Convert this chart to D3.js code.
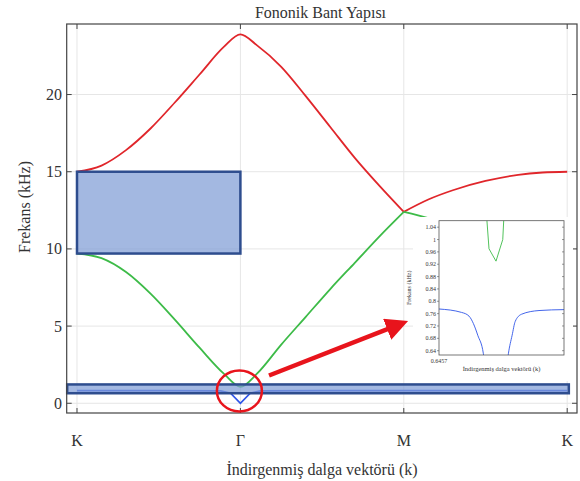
<!DOCTYPE html>
<html>
<head>
<meta charset="utf-8">
<script src="https://cdn.jsdelivr.net/npm/d3@7"></script>
<style>
  body { margin: 0; background: #fff; }
  text { font-family: "Liberation Serif", "Times New Roman", "DejaVu Serif", serif; fill: #333; }
</style>
</head>
<body>
<svg id="chart" width="580" height="481" font-family="Liberation Serif, serif"></svg>
<script>
// path positions (K=0, Γ=1, M=2, K=3)
let pathLabels = ["K", "Γ", "M", "K"],
    pathTicks = [0, 1, 2, 3],
    freqTicks = [0, 5, 10, 15, 20];

// sample positions along the path, shared by the two upper bands
let kSamples = [0, 0.15, 0.3, 0.45, 0.6, 0.75, 0.9, 1.0, 1.1, 1.25, 1.4, 1.55, 1.7, 1.85, 2.0,
                2.15, 2.3, 2.5, 2.7, 2.85, 3.0];
let redBand = [15.0, 15.4, 16.4, 17.8, 19.5, 21.3, 23.1, 23.9, 23.2, 21.8, 19.9, 17.9, 15.9, 14.1, 12.4,
               13.2, 13.8, 14.4, 14.8, 14.95, 15.0];
let greenBand = [9.7, 9.4, 8.5, 7.1, 5.4, 3.6, 1.9, 1.07, 1.9, 3.8, 5.6, 7.4, 9.1, 10.8, 12.4,
                 12.0, 11.5, 10.9, 10.3, 9.9, 9.7];

// lowest band (sharp dip at Γ)
let blueK = [0, 0.5, 0.88, 0.94, 1.0, 1.06, 1.12, 1.5, 2.0, 2.5, 3.0];
let blueBand = [0.82, 0.82, 0.80, 0.65, 0.0, 0.65, 0.80, 0.82, 0.82, 0.82, 0.82];

// band gaps: [k start, k end, f low, f high]
let bandGaps = [[0, 1, 9.7, 15.0], [-0.06, 3.01, 0.65, 1.22]];

// zoomed inset (x is relative position across the inset)
let insetTicks = [1.04, 1, 0.96, 0.92, 0.88, 0.84, 0.8, 0.76, 0.72, 0.68, 0.64];
let insetGreenX = [0.38, 0.40, 0.456, 0.51, 0.52],
    insetGreen = [1.08, 0.97, 0.93, 1.0, 1.08];
let insetBlueX = [0, 0.18, 0.24, 0.275, 0.31, 0.355, 0.365, 0.545, 0.555, 0.585, 0.61, 0.66, 0.8, 1.0],
    insetBlue = [0.775, 0.764, 0.752, 0.728, 0.69, 0.63, 0.60, 0.60, 0.63, 0.69, 0.735, 0.758, 0.770, 0.773];
let insetXLabel = "0.6457";

let width = 580,
    height = 481,
    frame = {left: 66.7, right: 577, top: 24, bottom: 413};

let svg = d3.select("#chart");

let x = d3.scaleLinear().domain([-0.063, 3.06]).range([frame.left, frame.right]),
    y = d3.scaleLinear().domain([-0.63, 24.57]).range([frame.bottom, frame.top]);

function pairs(xs, ys) {
    return xs.map((v, i) => [v, ys[i]]);
}

function draw_grid() {
    let g = svg.append("g").attr("id", "grid");
    g.selectAll("line.v").data(pathTicks).enter().append("line")
        .attr("x1", d => x(d)).attr("x2", d => x(d))
        .attr("y1", frame.top).attr("y2", frame.bottom)
        .attr("stroke", "#e6e6e6").attr("stroke-width", 1);
    g.selectAll("line.h").data(freqTicks).enter().append("line")
        .attr("y1", d => y(d)).attr("y2", d => y(d))
        .attr("x1", frame.left).attr("x2", frame.right)
        .attr("stroke", "#e6e6e6").attr("stroke-width", 1);
}

function draw_bands() {
    let line = d3.line().x(d => x(d[0])).y(d => y(d[1])).curve(d3.curveMonotoneX);
    let red = pairs(kSamples, redBand),
        green = pairs(kSamples, greenBand);
    let split = kSamples.indexOf(2.0);
    let g = svg.append("g").attr("id", "bands");
    [[red, "#e0262b"], [green, "#3dbb48"]].forEach(function (b) {
        g.append("path").attr("d", line(b[0].slice(0, split + 1)))
            .attr("fill", "none").attr("stroke", b[1]).attr("stroke-width", 1.8);
        g.append("path").attr("d", line(b[0].slice(split)))
            .attr("fill", "none").attr("stroke", b[1]).attr("stroke-width", 1.8);
    });
    g.append("path")
        .attr("d", d3.line().x(d => x(d[0])).y(d => y(d[1]))(pairs(blueK, blueBand)))
        .attr("fill", "none").attr("stroke", "#2f55e8").attr("stroke-width", 1.8);
}

function draw_gaps() {
    svg.append("g").attr("id", "gaps")
        .selectAll("rect").data(bandGaps).enter().append("rect")
        .attr("x", d => x(d[0]))
        .attr("width", d => x(d[1]) - x(d[0]))
        .attr("y", d => y(d[3]))
        .attr("height", d => y(d[2]) - y(d[3]))
        .attr("fill", "#7f9cd6").attr("fill-opacity", 0.72)
        .attr("stroke", "#2e4d8e").attr("stroke-width", 2.5);
}

function draw_frame() {
    let g = svg.append("g").attr("id", "axes");
    g.append("rect")
        .attr("x", frame.left).attr("y", frame.top)
        .attr("width", frame.right - frame.left).attr("height", frame.bottom - frame.top)
        .attr("fill", "none").attr("stroke", "#444").attr("stroke-width", 1.2);

    // inward ticks on all four sides
    pathTicks.forEach(function (t) {
        g.append("line").attr("x1", x(t)).attr("x2", x(t)).attr("y1", frame.bottom).attr("y2", frame.bottom - 5)
            .attr("stroke", "#444");
        g.append("line").attr("x1", x(t)).attr("x2", x(t)).attr("y1", frame.top).attr("y2", frame.top + 5)
            .attr("stroke", "#444");
    });
    freqTicks.forEach(function (t) {
        g.append("line").attr("y1", y(t)).attr("y2", y(t)).attr("x1", frame.left).attr("x2", frame.left + 5)
            .attr("stroke", "#444");
        g.append("line").attr("y1", y(t)).attr("y2", y(t)).attr("x1", frame.right).attr("x2", frame.right - 5)
            .attr("stroke", "#444");
    });

    g.selectAll("text.xt").data(pathTicks).enter().append("text")
        .attr("x", d => x(d)).attr("y", 446)
        .attr("text-anchor", "middle").attr("font-size", 16)
        .text((d, i) => pathLabels[i]);
    g.selectAll("text.yt").data(freqTicks).enter().append("text")
        .attr("x", 62).attr("y", d => y(d) + 5.5)
        .attr("text-anchor", "end").attr("font-size", 16)
        .text(d => d);

    svg.append("text").attr("x", 320.5).attr("y", 18)
        .attr("text-anchor", "middle").attr("font-size", 16)
        .text("Fononik Bant Yapısı");
    svg.append("text").attr("x", 322).attr("y", 475)
        .attr("text-anchor", "middle").attr("font-size", 16)
        .text("İndirgenmiş dalga vektörü (k)");
    svg.append("text").attr("transform", "translate(30,207) rotate(-90)")
        .attr("text-anchor", "middle").attr("font-size", 16)
        .text("Frekans (kHz)");
}

function draw_inset() {
    let box = {left: 439, right: 564, top: 220.7, bottom: 355};
    let ix = d3.scaleLinear().domain([0, 1]).range([box.left, box.right]),
        iy = d3.scaleLinear().domain([0.626, 1.061]).range([box.bottom, box.top]);
    let g = svg.append("g").attr("id", "inset");

    g.append("rect").attr("x", 413).attr("y", 217).attr("width", 160).attr("height", 164)
        .attr("fill", "#fff");

    svg.append("clipPath").attr("id", "insetclip").append("rect")
        .attr("x", box.left).attr("y", box.top)
        .attr("width", box.right - box.left).attr("height", box.bottom - box.top);

    let line = d3.line().x(d => ix(d[0])).y(d => iy(d[1]));
    g.append("path").attr("d", line(pairs(insetGreenX, insetGreen)))
        .attr("clip-path", "url(#insetclip)")
        .attr("fill", "none").attr("stroke", "#3dbb48").attr("stroke-width", 0.9);
    g.append("path").attr("d", line.curve(d3.curveMonotoneX)(pairs(insetBlueX, insetBlue)))
        .attr("clip-path", "url(#insetclip)")
        .attr("fill", "none").attr("stroke", "#2f55e8").attr("stroke-width", 0.9);

    g.append("rect")
        .attr("x", box.left).attr("y", box.top)
        .attr("width", box.right - box.left).attr("height", box.bottom - box.top)
        .attr("fill", "none").attr("stroke", "#555").attr("stroke-width", 0.8);

    insetTicks.forEach(function (t) {
        g.append("line").attr("y1", iy(t)).attr("y2", iy(t)).attr("x1", box.left - 2).attr("x2", box.left)
            .attr("stroke", "#555").attr("stroke-width", 0.6);
        g.append("line").attr("y1", iy(t)).attr("y2", iy(t)).attr("x1", box.right).attr("x2", box.right - 2)
            .attr("stroke", "#555").attr("stroke-width", 0.6);
        g.append("text").attr("x", box.left - 3).attr("y", iy(t) + 2)
            .attr("text-anchor", "end").attr("font-size", 6)
            .text(t);
    });
    g.append("text").attr("x", box.left).attr("y", box.bottom + 8)
        .attr("text-anchor", "middle").attr("font-size", 6)
        .text(insetXLabel);
    g.append("text").attr("x", (box.left + box.right) / 2).attr("y", box.bottom + 16)
        .attr("text-anchor", "middle").attr("font-size", 6.5)
        .text("İndirgenmiş dalga vektörü (k)");
    g.append("text").attr("transform", `translate(411,${(box.top + box.bottom) / 2}) rotate(-90)`)
        .attr("text-anchor", "middle").attr("font-size", 6)
        .text("Frekans (kHz)");
}

function draw_callout() {
    let g = svg.append("g").attr("id", "callout");
    g.append("ellipse")
        .attr("cx", x(1) - 1).attr("cy", y(0.8))
        .attr("rx", 22.5).attr("ry", 20.5)
        .attr("fill", "none").attr("stroke", "#e8141c").attr("stroke-width", 2.5);

    svg.append("defs").append("marker")
        .attr("id", "head").attr("viewBox", "0 0 10 10")
        .attr("refX", 4.7).attr("refY", 5)
        .attr("markerWidth", 5).attr("markerHeight", 5)
        .attr("markerUnits", "strokeWidth")
        .attr("orient", "auto")
        .append("path").attr("d", "M0,0 L10,5 L0,10 z").attr("fill", "#e8141c");

    g.append("line")
        .attr("x1", 269).attr("y1", 375.5)
        .attr("x2", 397).attr("y2", 325.4)
        .attr("stroke", "#e8141c").attr("stroke-width", 4.5)
        .attr("marker-end", "url(#head)");
}

draw_grid();
draw_bands();
draw_gaps();
draw_frame();
draw_inset();
draw_callout();
</script>
</body>
</html>
